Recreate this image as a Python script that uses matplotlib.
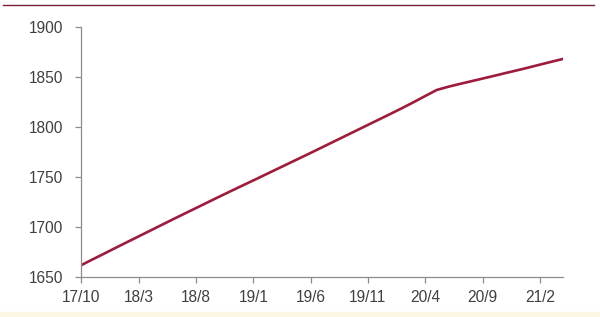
from matplotlib import pyplot as plt
from matplotlib.lines import Line2D
import numpy as np

# monthly values, 2017-10 .. 2021-04
months = ['17/10', '17/11', '17/12',
          '18/1', '18/2', '18/3', '18/4', '18/5', '18/6', '18/7', '18/8', '18/9', '18/10', '18/11', '18/12',
          '19/1', '19/2', '19/3', '19/4', '19/5', '19/6', '19/7', '19/8', '19/9', '19/10', '19/11', '19/12',
          '20/1', '20/2', '20/3', '20/4', '20/5', '20/6', '20/7', '20/8', '20/9', '20/10', '20/11', '20/12',
          '21/1', '21/2', '21/3', '21/4']
values = [1662.0, 1667.8, 1673.5,
          1679.3, 1685.0, 1690.7, 1696.4, 1702.1, 1707.8, 1713.4, 1719.0, 1724.6, 1730.2, 1735.7, 1741.2,
          1746.6, 1752.1, 1757.6, 1763.1, 1768.6, 1774.1, 1779.7, 1785.3, 1790.9, 1796.5, 1802.1, 1807.7,
          1813.3, 1819.0, 1824.9, 1831.0, 1837.0, 1840.2, 1843.0, 1845.7, 1848.4, 1851.1, 1853.9, 1856.6,
          1859.4, 1862.3, 1865.2, 1868.0]
y_ticks = [1650, 1700, 1750, 1800, 1850, 1900]


def main():
    plt.rcParams['font.family'] = ['Liberation Sans', 'DejaVu Sans']
    fig = plt.figure(figsize=(6, 3.17), dpi=100)
    ax = fig.add_axes([0.1357, 0.126, 0.8023, 0.789])

    x = np.arange(len(months))
    ax.plot(x, values, color='#9e1b3c', linewidth=1.9, solid_joinstyle='round')

    ax.set_xlim(0, len(months) - 1)
    ax.set_ylim(1650, 1900)
    ax.set_yticks(y_ticks)
    ax.set_xticks(x[::5])
    ax.set_xticklabels(months[::5])

    for side in ['top', 'right']:
        ax.spines[side].set_visible(False)
    for side in ['left', 'bottom']:
        ax.spines[side].set_color('#8c8c8c')
        ax.spines[side].set_linewidth(0.9)
    ax.tick_params(axis='both', colors='#8c8c8c', length=4, width=0.9,
                   labelsize=11.2, labelcolor='#404040')
    ax.tick_params(axis='x', pad=5)
    ax.tick_params(axis='y', pad=9)

    # header rule at the top of the figure
    fig.add_artist(Line2D([0.005, 0.99], [0.984, 0.984], color='#7a1f33', linewidth=1.0))
    # pale band at the bottom
    fig.patches.append(plt.Rectangle((0, 0), 1, 0.015, transform=fig.transFigure,
                                     color='#fbf6e6', zorder=-1))

    fig.savefig('out.png', dpi=100)


if __name__ == '__main__':
    main()
